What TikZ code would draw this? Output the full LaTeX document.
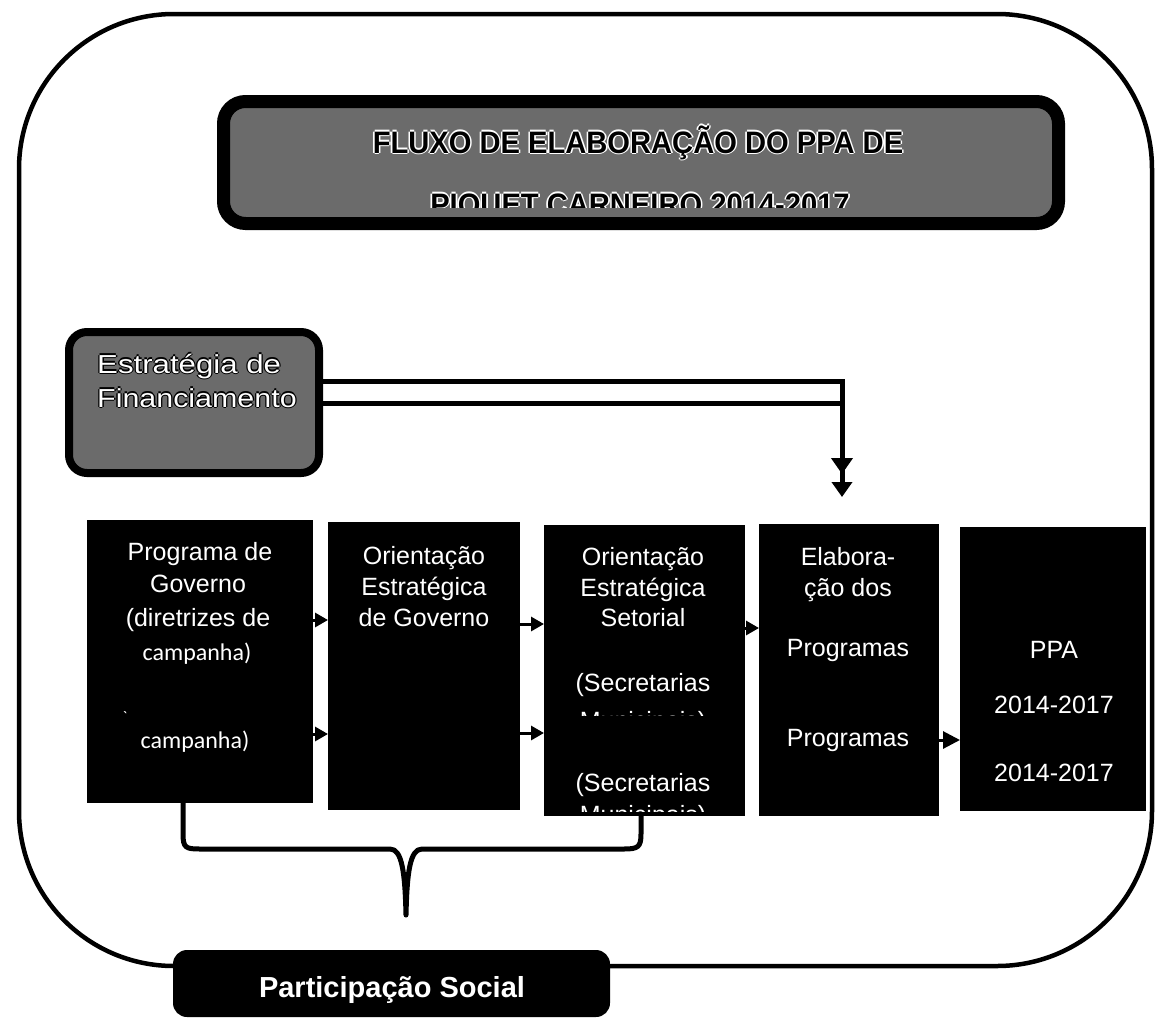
\documentclass[tikz,border=0pt]{standalone}
\usepackage{fontspec}
\usepackage{graphicx}
\setmainfont{Liberation Sans}
\newfontfamily\calib{Carlito}
\usetikzlibrary{arrows.meta}
\begin{document}
\begin{tikzpicture}[x=1pt,y=-1pt,
  blk/.style={fill=black,draw=none,inner sep=0pt,outer sep=0pt,anchor=north west},
  wt/.style={text=white,inner sep=0pt,anchor=base,font=\fontsize{25}{30}\selectfont},
  wc/.style={text=white,inner sep=0pt,anchor=base,font=\calib\fontsize{24}{29}\selectfont},
  flow/.style={line width=3pt,-{Triangle[length=13pt,width=14pt]}},
  thick5/.style={line width=5pt},
  ttl/.style={inner sep=0pt,anchor=base,font=\bfseries\fontsize{31}{36}\selectfont},
  stt/.style={inner sep=0pt,anchor=base west,font=\fontsize{26}{31}\selectfont}
]
\useasboundingbox (0,0) rectangle (1157,1018);
\fill[white] (0,0) rectangle (1157,1018);

% outer frame
\draw[line width=4.5pt,rounded corners=155pt] (19,14) rectangle (1152,966);

% title box
\node[draw=black,line width=13pt,rounded corners=22pt,fill=black!58,
  minimum width=835pt,minimum height=122pt,inner sep=0pt,outer sep=0pt,anchor=north west]
  (title) at (223.5,101.5) {};
\foreach \dx/\dy [count=\i] in {-1.6/0,1.6/0,0/-1.6,0/1.6}
  \node[ttl,text=white] (th\i) at (638+\dx,153+\dy) {\scalebox{0.94}[1]{FLUXO DE ELABORAÇÃO DO PPA DE}};
\node[ttl] (t1) at (638,153) {\scalebox{0.94}[1]{FLUXO DE ELABORAÇÃO DO PPA DE}};
\begin{scope}
  \clip (232,150) rectangle (1050,207);
  \foreach \dx/\dy [count=\i] in {-1.6/0,1.6/0,0/-1.6,0/1.6}
    \node[ttl,text=white] (tk\i) at (640+\dx,215+\dy) {\scalebox{0.94}[1]{PIQUET CARNEIRO 2014-2017}};
  \node[ttl] (t2) at (640,215) {\scalebox{0.94}[1]{PIQUET CARNEIRO 2014-2017}};
\end{scope}

% strategy box
\node[draw=black,line width=8pt,rounded corners=18pt,fill=black!58,
  minimum width=250pt,minimum height=141pt,inner sep=0pt,outer sep=0pt,anchor=north west]
  (st) at (69,332) {};
\foreach \dx/\dy [count=\i] in {-1.3/0,1.3/0,0/-1.3,0/1.3}{
  \node[stt,text=black] (sh\i) at (97+\dx,373+\dy) {\scalebox{1.2}[1]{Estratégia de}};
  \node[stt,text=black] (si\i) at (97+\dx,407+\dy) {\scalebox{1.17}[1]{Financiamento}};
}
\node[stt,text=white] (s1) at (97,373) {\scalebox{1.2}[1]{Estratégia de}};
\node[stt,text=white] (s2) at (97,407) {\scalebox{1.17}[1]{Financiamento}};

% flow boxes
\node[blk,minimum width=226pt,minimum height=283pt] (b1) at (87,520) {};
\node[blk,minimum width=192pt,minimum height=288pt] (b2) at (328,522) {};
\node[blk,minimum width=201pt,minimum height=291pt] (b3) at (544,525) {};
\node[blk,minimum width=180pt,minimum height=292pt] (b4) at (759,524) {};
\node[blk,minimum width=186pt,minimum height=284pt] (b5) at (960,527) {};

% box 1 text
\node[wt] (p1) at (200,560) {Programa de};
\node[wt] (p2) at (198,592) {Governo};
\node[wt] (p3) at (198,626) {(diretrizes de};
\node[wc] (p4) at (197,660) {campanha)};
\node[wc,font=\calib\fontsize{16}{16}\selectfont] (p5) at (125,722) {`};
\node[wc] (p6) at (195,748) {campanha)};

% box 2 text
\node[wt] (o1) at (424,564) {Orientação};
\node[wt] (o2) at (424,595) {Estratégica};
\node[wt] (o3) at (424,626) {de Governo};

% box 3 text
\node[wt] (q1) at (643,565) {Orientação};
\node[wt] (q2) at (643,596) {Estratégica};
\node[wt] (q3) at (643,626) {Setorial};
\node[wt] (q4) at (643,691) {(Secretarias};
\begin{scope}
  \clip (544,695) rectangle (745,715);
  \node[wt] (q5) at (643,729) {Municipais)};
\end{scope}
\node[wt] (q6) at (643,791) {(Secretarias};
\begin{scope}
  \clip (544,795) rectangle (745,811);
  \node[wt] (q7) at (643,823) {Municipais)};
\end{scope}

% box 4 text
\node[wt] (e1) at (848,565) {Elabora-};
\node[wt] (e2) at (848,596) {ção dos};
\node[wt] (e3) at (848,656) {Programas};
\node[wt] (e4) at (848,746) {Programas};

% box 5 text
\node[wt] (f1) at (1054,658) {PPA};
\node[wt] (f2) at (1054,713) {2014-2017};
\node[wt] (f3) at (1054,781) {2014-2017};

% arrows between boxes
\draw[flow] (b1.east |- 0,620) -- (b2.west |- 0,620);
\draw[flow] (b1.east |- 0,734) -- (b2.west |- 0,734);
\draw[flow] (b2.east |- 0,624) -- (b3.west |- 0,624);
\draw[flow] (b2.east |- 0,733) -- (b3.west |- 0,733);
\draw[flow] (b3.east |- 0,628) -- (b4.west |- 0,628);
\draw[line width=3pt,-{Triangle[length=17pt,width=17pt]}] (b4.east |- 0,740) -- (b5.west |- 0,740);

% strategy connectors
\coordinate (sA) at (st.east |- 0,381);
\coordinate (sB) at (st.east |- 0,403);
\coordinate (c1) at (842,381);
\coordinate (c2) at (842,474);
\coordinate (c3) at (842,497);
\draw[thick5,line join=miter] (sA) -- (c1) -- (c2);
\draw[thick5] (sB) -- (c1 |- sB);
\draw[thick5,-{Triangle[length=16pt,width=21pt]}] (c1 |- sB) -- (c2);
\draw[thick5,-{Triangle[length=15pt,width=20pt]}] (c2) -- (c3);

% brace
\coordinate (brA) at (b1.south -| 183,0);
\coordinate (brB) at (b3.south -| 641,0);
\draw[thick5,line join=round] (brA) -- (183,834) .. controls (183,848) and (186,849) .. (200,849)
  -- (390,849) .. controls (402,849) and (405,872) .. (406,915)
  .. controls (407,872) and (410,849) .. (422,849)
  -- (624,849) .. controls (638,849) and (641,847) .. (641,834) -- (brB);

% participation box
\node[fill=black,rounded corners=14pt,minimum width=437pt,minimum height=67pt,
  inner sep=0pt,outer sep=0pt,anchor=north west] (ps) at (173,950) {};
\node[text=white,inner sep=0pt,anchor=base,font=\bfseries\fontsize{29}{34}\selectfont] (pst) at (392,997) {Participação Social};
\end{tikzpicture}
\end{document}
